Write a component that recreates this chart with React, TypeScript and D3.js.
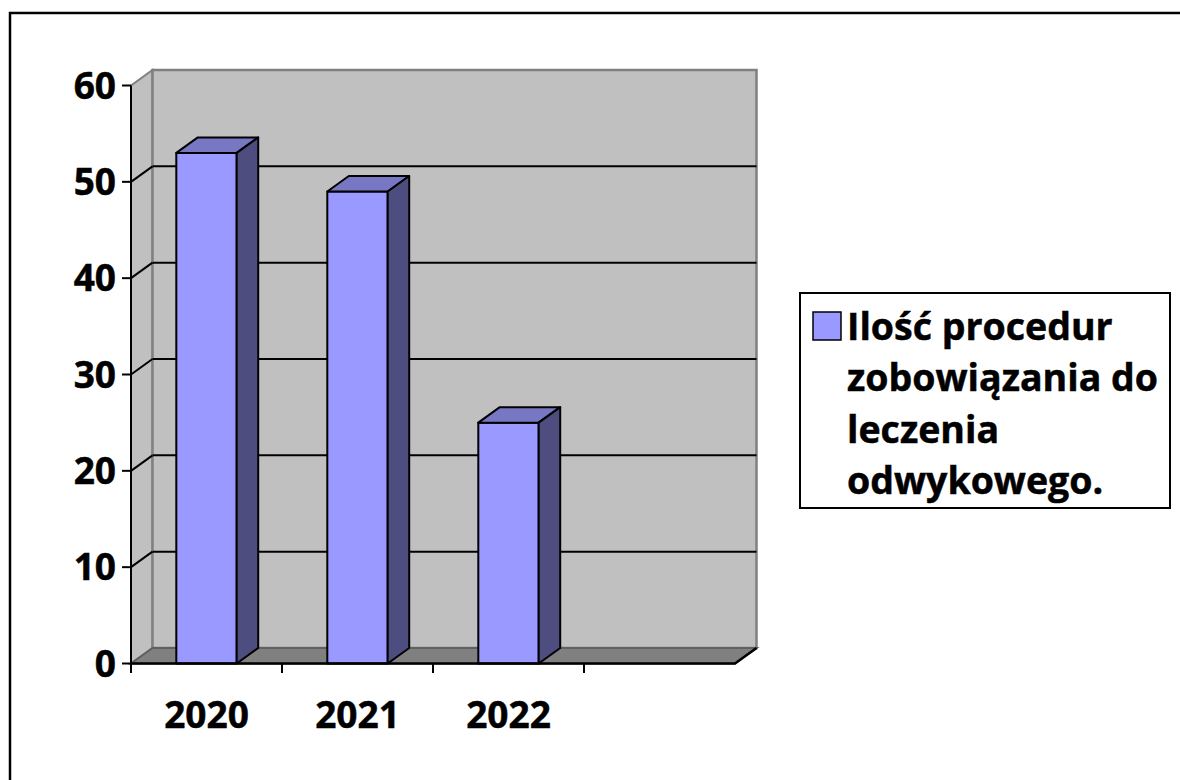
import React from "react";
import * as d3 from "d3";

const categories = ["2020", "2021", "2022", ""];
const values: (number | null)[] = [53, 49, 25, null];
const yTicks = [0, 10, 20, 30, 40, 50, 60];
const legendLines = ["Ilość procedur", "zobowiązania do", "leczenia", "odwykowego."];

const W = 1180;
const H = 780;
const DX = 21.5;
const DY = -15.5;
const FONT = "'Open Sans', Lato, sans-serif";

export default function App() {
  const y = d3.scaleLinear().domain([0, 60]).range([663.5, 85.5]);
  const xStep = d3.scaleBand().domain(categories).range([131, 735]).padding(0);
  const xBar = d3
    .scaleBand()
    .domain(categories)
    .range([131, 735])
    .paddingInner(0.6)
    .paddingOuter(0.3);

  const x0 = 131;
  const x1 = 735;
  const yb = y(0);
  const yt = y(60);

  const pts = (p: [number, number][]) => p.map((d) => d.join(",")).join(" ");
  const textStyle = {
    fontFamily: FONT,
    fontWeight: 700,
    fill: "#000",
    stroke: "#000",
    strokeWidth: 0.5,
  } as const;

  return (
    <svg
      width={W}
      height={H}
      style={{ position: "fixed", left: 0, top: 0, background: "#fff" }}
    >
      <rect x={0} y={0} width={W} height={H} fill="#fff" />
      <rect x={10} y={13} width={W + 20} height={H + 20} fill="none" stroke="#000" strokeWidth={2.5} />

      {/* side wall */}
      <polygon
        points={pts([
          [x0, yt],
          [x0 + DX, yt + DY],
          [x0 + DX, yb + DY],
          [x0, yb],
        ])}
        fill="#C0C0C0"
        stroke="#808080"
        strokeWidth={2}
      />
      {/* back wall */}
      <rect
        x={x0 + DX}
        y={yt + DY}
        width={x1 - x0}
        height={yb - yt}
        fill="#C0C0C0"
        stroke="#808080"
        strokeWidth={2.5}
      />
      {/* floor */}
      <polygon
        points={pts([
          [x0, yb],
          [x1, yb],
          [x1 + DX, yb + DY],
          [x0 + DX, yb + DY],
        ])}
        fill="#808080"
        stroke="#606060"
        strokeWidth={2}
      />

      {/* gridlines */}
      {yTicks
        .filter((v) => v > 0 && v < 60)
        .map((v) => (
          <g key={"g" + v}>
            <line x1={x0} y1={y(v)} x2={x0 + DX} y2={y(v) + DY} stroke="#000" strokeWidth={2} />
            <line x1={x0 + DX} y1={y(v) + DY} x2={x1 + DX} y2={y(v) + DY} stroke="#000" strokeWidth={2} />
          </g>
        ))}

      {/* bars */}
      {categories.map((c, i) => {
        const v = values[i];
        if (v == null) return null;
        const bx0 = xBar(c)!;
        const bx1 = bx0 + xBar.bandwidth();
        const ty = y(v);
        return (
          <g key={"b" + c} stroke="#000" strokeWidth={2} strokeLinejoin="round">
            <rect x={bx0} y={ty} width={bx1 - bx0} height={yb - ty} fill="#9999FF" />
            <polygon
              points={pts([
                [bx0, ty],
                [bx0 + DX, ty + DY],
                [bx1 + DX, ty + DY],
                [bx1, ty],
              ])}
              fill="#7777C4"
            />
            <polygon
              points={pts([
                [bx1, ty],
                [bx1 + DX, ty + DY],
                [bx1 + DX, yb + DY],
                [bx1, yb],
              ])}
              fill="#4D4D80"
            />
          </g>
        );
      })}

      {/* axes */}
      <line x1={x0} y1={yt} x2={x0} y2={yb} stroke="#000" strokeWidth={2} />
      <polyline
        points={pts([
          [x0, yb],
          [x1, yb],
          [x1 + DX, yb + DY],
        ])}
        fill="none"
        stroke="#000"
        strokeWidth={2.5}
      />
      {yTicks.map((v) => (
        <g key={"yt" + v}>
          <line x1={122} y1={y(v)} x2={x0} y2={y(v)} stroke="#000" strokeWidth={2} />
          <text x={116} y={y(v) + 13} textAnchor="end" fontSize={37} style={textStyle}>
            {v}
          </text>
        </g>
      ))}
      {categories.map((c) => (
        <line
          key={"xt" + c}
          x1={xStep(c)!}
          y1={yb}
          x2={xStep(c)!}
          y2={yb + 9.5}
          stroke="#000"
          strokeWidth={2}
        />
      ))}
      {categories.map((c) => (
        <text
          key={"xl" + c}
          x={xStep(c)! + xStep.bandwidth() / 2}
          y={728}
          textAnchor="middle"
          fontSize={37}
          style={textStyle}
        >
          {c}
        </text>
      ))}

      {/* legend */}
      <rect x={800} y={293} width={370} height={215} fill="#fff" stroke="#000" strokeWidth={2} />
      <rect x={813} y={312} width={28} height={28} fill="#9999FF" stroke="#000" strokeWidth={1.5} />
      {legendLines.map((t, i) => (
        <text key={"l" + i} x={847} y={340 + i * 51.3} fontSize={37.5} style={textStyle}>
          {t}
        </text>
      ))}
    </svg>
  );
}
